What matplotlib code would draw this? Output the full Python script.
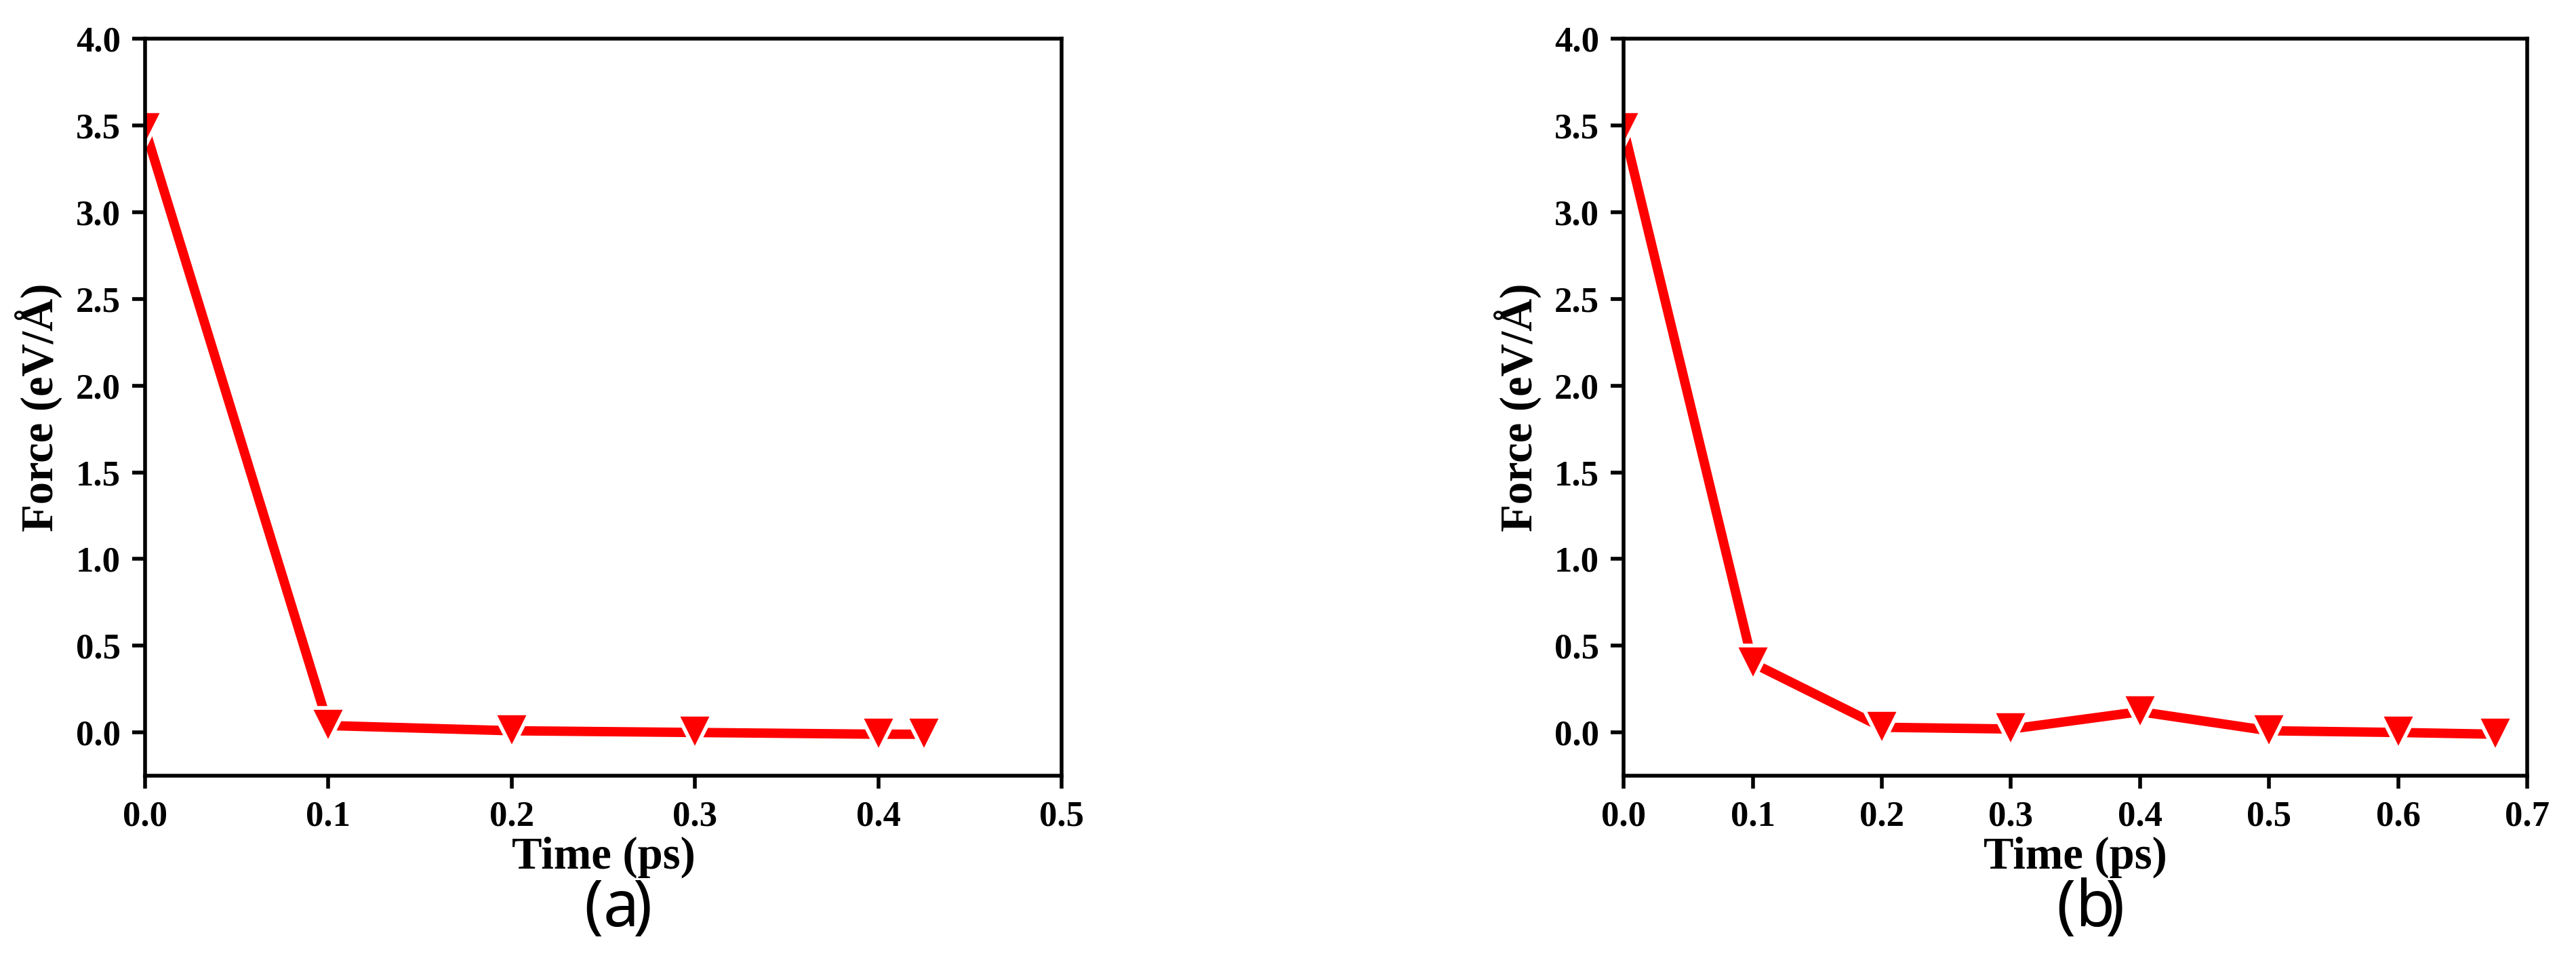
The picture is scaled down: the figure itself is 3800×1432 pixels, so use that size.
import matplotlib.pyplot as plt

time_a = [0.0, 0.1, 0.2, 0.3, 0.4, 0.425]
force_a = [3.48, 0.04, 0.01, 0.0, -0.01, -0.01]
time_b = [0.0, 0.1, 0.2, 0.3, 0.4, 0.5, 0.6, 0.675]
force_b = [3.48, 0.40, 0.03, 0.02, 0.12, 0.01, 0.0, -0.01]

plt.rcParams['font.family'] = 'Liberation Serif'
plt.rcParams['font.weight'] = 'bold'

fig = plt.figure(figsize=(38, 14.32), dpi=100)


def draw_panel(rect, t, f, xmax, letter):
    ax = fig.add_axes(rect)
    ax.plot(t, f, color='red', lw=10, marker='v', markersize=38,
            markerfacecolor='red', markeredgecolor='white', markeredgewidth=4,
            solid_capstyle='round')
    ax.set_xlim(0, xmax)
    ax.set_ylim(-0.25, 4.0)
    n = int(round(xmax * 10))
    ax.set_xticks([i / 10 for i in range(n + 1)])
    ax.set_xticklabels(['%.1f' % (i / 10) if i < n else '%g' % (i / 10) for i in range(n + 1)])
    ax.set_yticks([i * 0.5 for i in range(9)])
    for s in ax.spines.values():
        s.set_linewidth(4)
    ax.tick_params(width=4, length=14, labelsize=38, pad=12)
    ax.set_xlabel('Time (ps)', fontsize=48, fontweight='bold', labelpad=4)
    ax.set_ylabel('Force (eV/Å)', fontsize=48, fontweight='bold', labelpad=14)
    x0, y0, w, h = rect
    fig.text(x0 + w / 2, 0.03, '(', fontsize=68, family='Noto Sans', ha='right', va='bottom')
    fig.text(x0 + w / 2, 0.03, letter, fontsize=68, family='Noto Sans',
             fontweight='bold', ha='left', va='bottom')
    fig.text(x0 + w / 2 + 0.0115, 0.03, ')', fontsize=68, family='Noto Sans', ha='left', va='bottom')
    return ax


draw_panel([0.0563, 0.201, 0.3558, 0.759], time_a, force_a, 0.5, 'a')
draw_panel([0.6303, 0.201, 0.3508, 0.759], time_b, force_b, 0.7, 'b')

fig.savefig('out.png', dpi=100)
